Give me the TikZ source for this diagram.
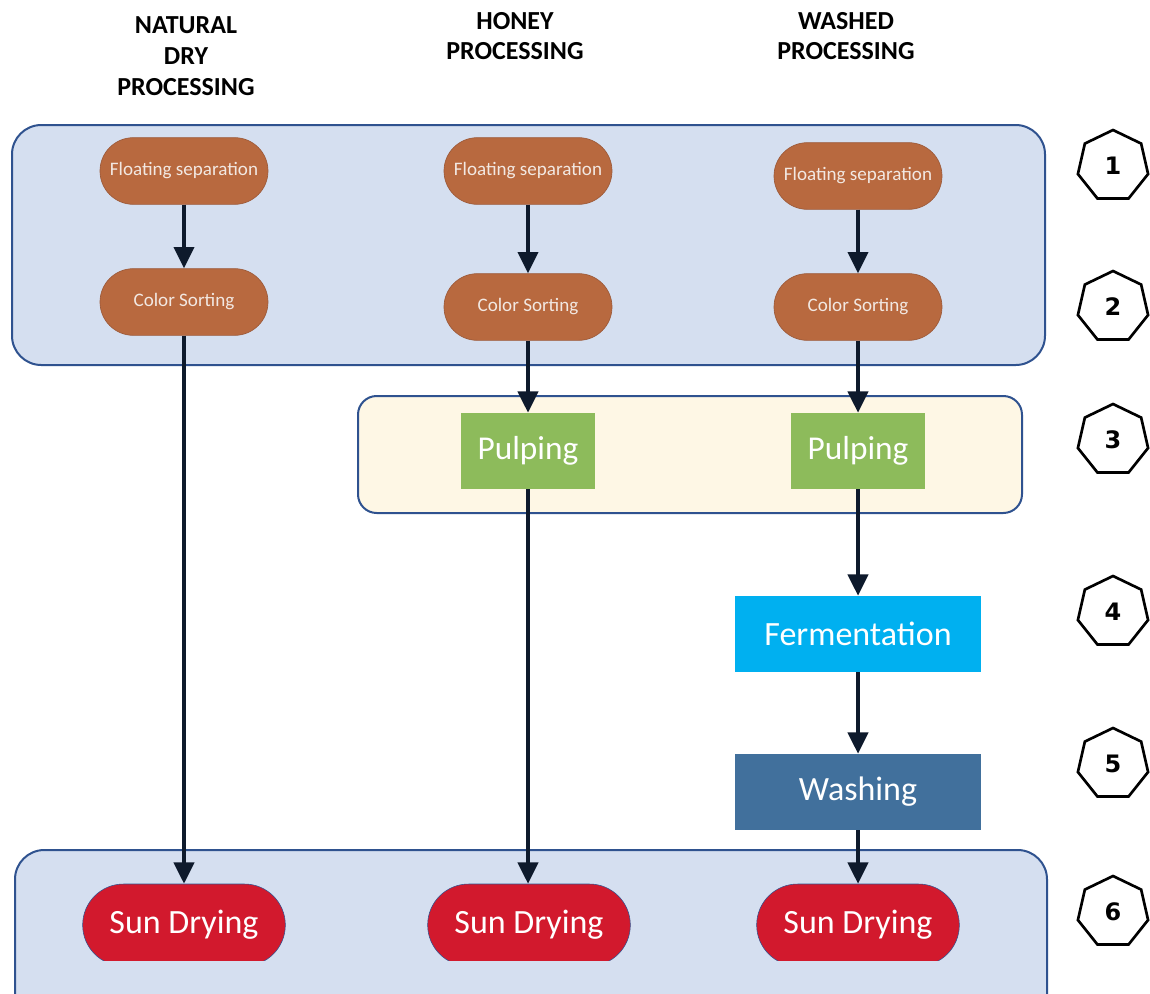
\documentclass[tikz,border=0pt]{standalone}
\usepackage{fontspec}
\setmainfont{Carlito}
\newfontfamily\digitfont{DejaVu Sans}
\usetikzlibrary{arrows.meta,shapes.geometric}
\definecolor{panelblue}{HTML}{D5DFF0}
\definecolor{panelcream}{HTML}{FEF7E5}
\definecolor{panelborder}{HTML}{2F528F}
\definecolor{brownfill}{HTML}{B8693F}
\definecolor{brownedge}{HTML}{9C5A3A}
\definecolor{browntext}{HTML}{F2E8E2}
\definecolor{pulpgreen}{HTML}{8DBB5B}
\definecolor{fermblue}{HTML}{00B0F0}
\definecolor{washblue}{HTML}{41709C}
\definecolor{sunred}{HTML}{D2192D}
\definecolor{arrowink}{HTML}{0E1A2C}
\tikzset{
  panel/.style={draw=panelborder, line width=1.5pt},
  oval/.style={draw=brownedge, line width=0.5pt, fill=brownfill, text=browntext,
    minimum width=126pt, minimum height=50pt, rounded corners=25pt, inner sep=0pt,
    font=\fontsize{14.3}{16}\selectfont},
  pulpbox/.style={fill=pulpgreen, text=white, minimum width=101pt, minimum height=57pt,
    inner sep=0pt, font=\fontsize{25}{28}\selectfont},
  widebox/.style={text=white, minimum width=184.5pt, minimum height=57pt,
    inner sep=0pt, font=\fontsize{25.5}{28}\selectfont},
  sunoval/.style={fill=sunred, draw=panelborder, line width=0.4pt, text=white,
    minimum width=152pt, minimum height=61.5pt, rounded corners=30.7pt, inner sep=0pt,
    font=\fontsize{25.5}{28}\selectfont},
  header/.style={align=center, font=\bfseries\fontsize{19.5}{23}\selectfont},
  hepta/.style={shape=regular polygon, regular polygon sides=7, draw=black,
    line width=2pt, minimum size=54pt, inner sep=0pt, fill=white,
    font=\digitfont\bfseries\fontsize{18}{20}\selectfont},
  flow/.style={draw=arrowink, line width=3pt,
    -{Triangle[width=15pt,length=16pt]}},
}
\begin{document}
\begin{tikzpicture}[x=0.75pt,y=-0.75pt]
\useasboundingbox (0,0) rectangle (1150,993);
\clip (0,0) rectangle (1150,993);
\fill[white] (0,0) rectangle (1150,993);

% panels
\draw[panel, fill=panelblue, rounded corners=22pt] (12,125) rectangle (1045,365);
\draw[panel, fill=panelcream, rounded corners=14pt] (358,396) rectangle (1022,513);
\draw[panel, fill=panelblue, rounded corners=22pt] (15,850) rectangle (1047,1030);

% headers
\node[header] (h1) at (186,56) {NATURAL\\DRY\\PROCESSING};
\node[header] (h2) at (515,36) {HONEY\\PROCESSING};
\node[header] (h3) at (846,36) {WASHED\\PROCESSING};

% column 1
\node[oval] (f1) at (184,171) {Floating separation};
\node[oval] (c1) at (184,302) {Color Sorting};
% column 2
\node[oval] (f2) at (528,171) {Floating separation};
\node[oval] (c2) at (528,307) {Color Sorting};
\node[pulpbox] (p2) at (528,451) {Pulping};
% column 3
\node[oval] (f3) at (858,176) {Floating separation};
\node[oval] (c3) at (858,307) {Color Sorting};
\node[pulpbox] (p3) at (858,451) {Pulping};
\node[widebox, fill=fermblue] (fe) at (858,634) {Fermentation};
\node[widebox, fill=washblue] (wa) at (858,792) {Washing};

\begin{scope}
\clip (0,0) rectangle (1150,960);
\node[sunoval] (s1) at (184,925) {Sun Drying};
\node[sunoval] (s2) at (529,925) {Sun Drying};
\node[sunoval] (s3) at (858,925) {Sun Drying};
\end{scope}

% arrows
\draw[flow] (f1.south) -- (c1.north);
\draw[flow] (c1.south) -- (s1.north);
\draw[flow] (f2.south) -- (c2.north);
\draw[flow] (c2.south) -- (p2.north);
\draw[flow] (p2.south) -- (s2.north -| p2.south);
\draw[flow] (f3.south) -- (c3.north);
\draw[flow] (c3.south) -- (p3.north);
\draw[flow] (p3.south) -- (fe.north);
\draw[flow] (fe.south) -- (wa.north);
\draw[flow] (wa.south) -- (s3.north);

% step markers
\node[hepta] (n1) at (1113,166) {1};
\node[hepta] (n2) at (1113,307) {2};
\node[hepta] (n3) at (1113,440) {3};
\node[hepta] (n4) at (1113,612) {4};
\node[hepta] (n5) at (1113,764) {5};
\node[hepta] (n6) at (1113,912) {6};
\end{tikzpicture}
\end{document}
